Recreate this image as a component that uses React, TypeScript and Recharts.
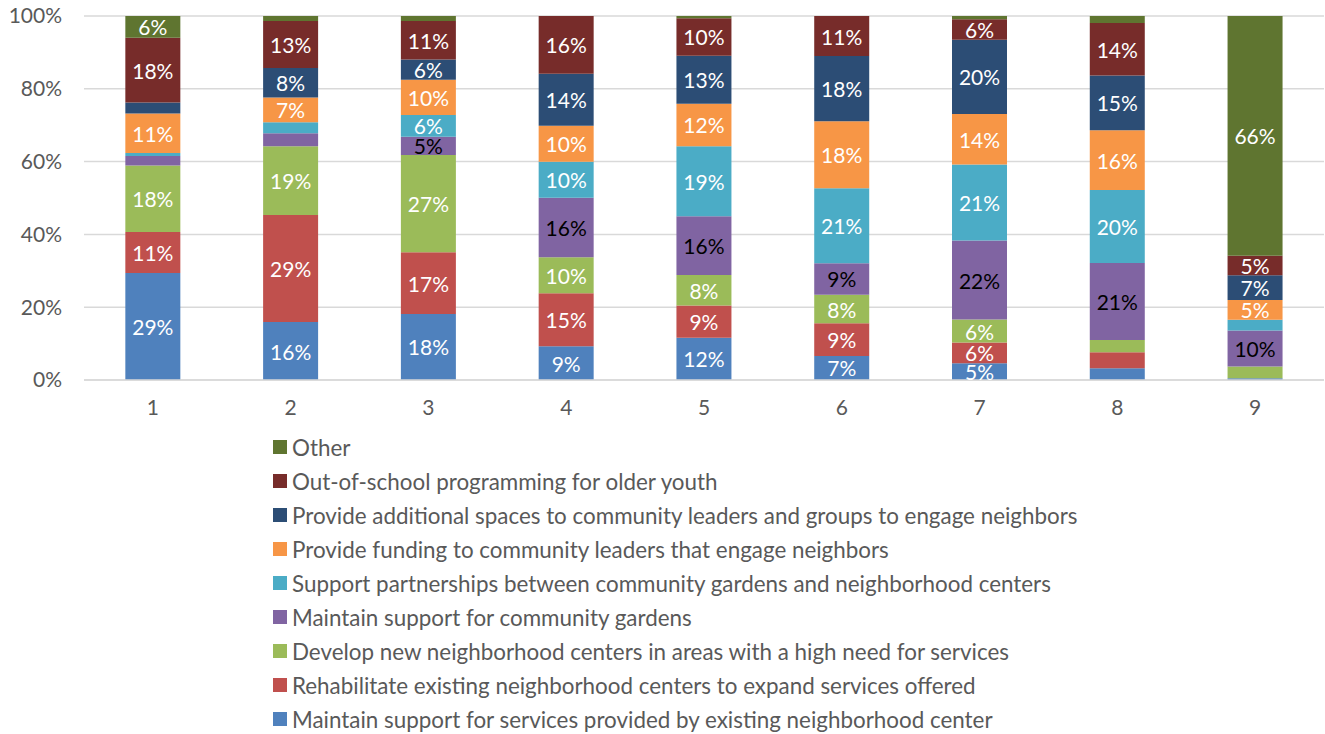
import { Bar, BarChart, CartesianGrid, LabelList, Legend, XAxis, YAxis } from "recharts";

const categories = ["1", "2", "3", "4", "5", "6", "7", "8", "9"];

// values per survey group, bottom segment first
const maintainCenters = [29.4, 15.9, 18.2, 9.3, 11.6, 6.6, 4.6, 3.2, 0.5];
const rehabilitateCenters = [11.3, 29.4, 17.0, 14.6, 8.9, 9.0, 5.7, 4.4, 0];
const developCenters = [18.3, 18.9, 26.8, 9.9, 8.4, 7.8, 6.3, 3.4, 3.2];
const gardens = [2.6, 3.6, 5.0, 16.4, 16.1, 8.7, 21.7, 21.1, 9.9];
const partnerships = [0.8, 3.0, 6.0, 9.9, 19.3, 20.6, 20.9, 20.0, 3.0];
const funding = [10.9, 6.8, 9.7, 9.9, 11.7, 18.4, 13.9, 16.4, 5.4];
const spaces = [3.0, 8.1, 5.6, 14.3, 13.2, 17.9, 20.4, 15.0, 6.8];
const olderYouth = [17.8, 12.9, 10.6, 15.9, 10.3, 11.0, 5.6, 14.4, 5.4];
const other = [6.0, 1.4, 1.4, 0, 0.6, 0, 0.9, 1.9, 65.9];

const yTicks = [0, 0.2, 0.4, 0.6, 0.8, 1];

const series = [
  { key: "maintainCenters", values: maintainCenters, color: "#4F81BD", label: "#ffffff", name: "Maintain support for services provided by existing neighborhood center" },
  { key: "rehabilitateCenters", values: rehabilitateCenters, color: "#C0504D", label: "#ffffff", name: "Rehabilitate existing neighborhood centers to expand services offered" },
  { key: "developCenters", values: developCenters, color: "#9BBB59", label: "#ffffff", name: "Develop new neighborhood centers in areas with a high need for services" },
  { key: "gardens", values: gardens, color: "#8064A2", label: "#000000", name: "Maintain support for community gardens" },
  { key: "partnerships", values: partnerships, color: "#4BACC6", label: "#ffffff", name: "Support partnerships between community gardens and neighborhood centers" },
  { key: "funding", values: funding, color: "#F79646", label: "#ffffff", name: "Provide funding to community leaders that engage neighbors" },
  { key: "spaces", values: spaces, color: "#2C4D75", label: "#ffffff", name: "Provide additional spaces to community leaders and groups to engage neighbors" },
  { key: "olderYouth", values: olderYouth, color: "#772C2A", label: "#ffffff", name: "Out-of-school programming for older youth" },
  { key: "other", values: other, color: "#5F7530", label: "#ffffff", name: "Other" },
];

const data = categories.map((name, i) => {
  const row: Record<string, string | number> = { name };
  for (const s of series) row[s.key] = s.values[i];
  return row;
});

const font = "Lato, 'Open Sans', sans-serif";
const textGray = "#595959";

const makeLabel = (fill: string) => (props: any) => {
  const { x, y, width, height, value } = props;
  const v = Math.round(Number(value));
  if (!v || v < 5) return null;
  return (
    <text
      x={Number(x) + Number(width) / 2}
      y={Number(y) + Number(height) / 2}
      fill={fill}
      textAnchor="middle"
      dominantBaseline="central"
      fontSize={21}
      fontFamily={font}
    >
      {v}%
    </text>
  );
};

const renderLegend = () => (
  <div style={{ fontFamily: font, fontSize: 22.4, color: textGray }}>
    {[...series].reverse().map((s) => (
      <div key={s.key} style={{ display: "flex", alignItems: "center", height: 34, whiteSpace: "nowrap" }}>
        <span style={{ width: 14, height: 14, background: s.color, marginRight: 5, display: "inline-block" }} />
        <span>{s.name}</span>
      </div>
    ))}
  </div>
);

export default function App() {
  return (
    <div style={{ position: "absolute", left: 0, top: 0, background: "#fff" }}>
      <BarChart
        width={1325}
        height={734}
        data={data}
        stackOffset="expand"
        barCategoryGap="30%"
        margin={{ top: 16, right: 1, left: 0, bottom: 324 }}
      >
        <CartesianGrid vertical={false} stroke="#d9d9d9" strokeWidth={1.5} />
        <XAxis
          dataKey="name"
          height={30}
          axisLine={{ stroke: "#d9d9d9", strokeWidth: 1.5 }}
          tickLine={false}
          tickSize={0}
          tickMargin={20}
          tick={{ fill: textGray, fontSize: 21, fontFamily: font }}
        />
        <YAxis
          width={84}
          domain={[0, 1]}
          ticks={yTicks}
          axisLine={false}
          tickLine={false}
          tickSize={0}
          tickMargin={22}
          tickFormatter={(v: number) => `${Math.round(v * 100)}%`}
          tick={{ fill: textGray, fontSize: 21, fontFamily: font }}
        />
        {series.map((s) => (
          <Bar key={s.key} dataKey={s.key} name={s.name} stackId="a" fill={s.color} isAnimationActive={false}>
            <LabelList dataKey={s.key} position="center" content={makeLabel(s.label)} />
          </Bar>
        ))}
        <Legend
          content={renderLegend}
          layout="vertical"
          align="center"
          verticalAlign="middle"
          wrapperStyle={{ top: 430, left: 273, width: 1000 }}
        />
      </BarChart>
    </div>
  );
}
